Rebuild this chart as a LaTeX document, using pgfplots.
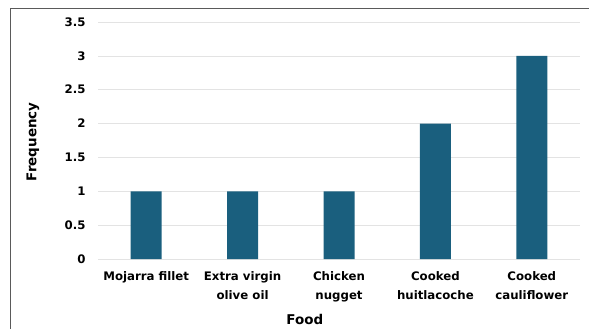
\documentclass[border=0pt]{standalone}
\usepackage{pgfplots}
\pgfplotsset{compat=1.18}
\usepackage{fontspec}
\setmainfont{DejaVu Sans}
\definecolor{barc}{RGB}{26,95,126}
\definecolor{framec}{RGB}{90,90,90}
\begin{document}
\begin{tikzpicture}[x=1bp,y=1bp]
\useasboundingbox (0,0) rectangle (589,328);
\draw[color=framec, line width=1bp] (10,-5) -- (10,319.5) -- (600,319.5);
\begin{axis}[
  at={(98bp,69bp)}, anchor=south west,
  scale only axis, width=482bp, height=237bp,
  xmin=-0.5, xmax=4.5, ymin=0, ymax=3.5,
  axis line style={draw=none},
  major tick length=0pt,
  ymajorgrids, grid style={color=black!11, line width=0.6bp},
  ytick={0,0.5,1,1.5,2,2.5,3,3.5},
  xtick={0,1,2,3,4},
  xticklabels={Mojarra fillet,{Extra virgin\\olive oil},{Chicken\\nugget},{Cooked\\huitlacoche},{Cooked\\cauliflower}},
  /pgf/number format/assume math mode=true,
  xticklabel style={font=\bfseries\fontsize{11.8}{19}\selectfont, align=center, anchor=north, yshift=-9bp},
  yticklabel style={font=\bfseries\fontsize{11.8}{14}\selectfont, anchor=east, xshift=-9bp},
  xlabel={Food}, ylabel={Frequency},
  xlabel style={font=\bfseries\fontsize{13.5}{16}\selectfont, at={(axis description cs:0.429,-0.257)}, anchor=center},
  ylabel style={font=\bfseries\fontsize{13.5}{16}\selectfont, at={(axis description cs:-0.135,0.494)}, anchor=center, rotate=0},
]
\addplot[ybar, bar width=31bp, fill=barc, draw=none] coordinates {(0,1) (1,1) (2,1) (3,2) (4,3)};
\end{axis}
\end{tikzpicture}
\end{document}
